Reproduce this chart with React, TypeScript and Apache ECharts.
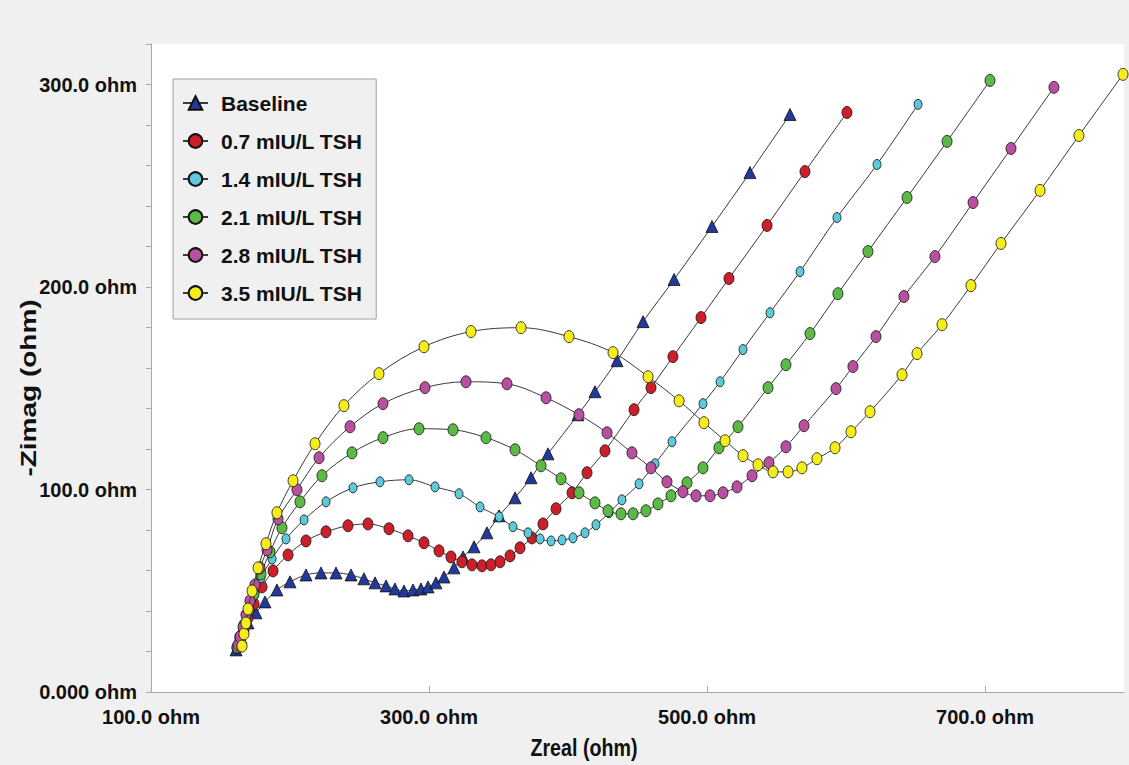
import React, { useEffect, useRef } from 'react';
import * as echarts from 'echarts';

const seriesNames = ['Baseline', '0.7 mIU/L TSH', '1.4 mIU/L TSH', '2.1 mIU/L TSH', '2.8 mIU/L TSH', '3.5 mIU/L TSH'];
const seriesColors = ['#22389a', '#cc1f2a', '#5ccadb', '#5cb946', '#b8509f', '#f5ec1c'];

const baselineZreal = [161.2,164.7,169.8,175.5,182.0,190.6,200.0,211.5,222.3,233.1,243.9,253.2,261.2,269.1,275.5,282.0,288.5,294.2,299.3,305.0,310.8,318.0,324.5,332.4,341.7,350.4,361.9,373.4,385.6,407.2,419.4,435.3,454.0,476.3,503.6,530.9,559.7];
const baselineZimag = [20.8,26.7,34.1,39.1,44.5,50.4,54.4,57.8,58.8,58.8,57.8,55.9,53.9,52.4,50.9,49.9,50.4,50.9,51.9,53.9,56.8,61.3,66.7,71.7,78.6,87.0,95.9,105.8,117.6,136.9,148.3,163.6,182.9,203.7,229.9,256.5,285.2];

const tsh07Zreal = [161.9,164.0,166.9,169.8,174.1,179.9,187.8,198.6,211.5,225.9,241.7,256.1,271.2,284.9,296.4,307.2,315.8,323.7,330.9,338.1,344.6,351.1,358.3,365.5,374.1,382.0,391.4,402.9,413.7,426.6,447.5,459.7,475.5,495.7,515.8,543.2,570.5,600.7];
const tsh07Zimag = [21.7,25.7,30.6,36.6,43.5,51.9,59.8,67.7,74.6,79.1,82.1,83.0,80.6,77.1,73.7,69.7,66.7,64.3,62.8,62.3,62.8,64.3,67.2,71.2,76.1,83.0,90.5,98.4,108.3,119.1,139.4,150.3,165.6,184.9,204.2,230.4,257.0,286.2];

const tsh14Zreal = [161.9,164.0,166.9,170.5,174.1,179.1,187.1,197.1,210.1,225.9,245.3,264.7,285.6,304.3,321.6,336.7,350.4,360.4,371.2,379.9,387.8,395.7,403.6,412.2,420.1,429.5,438.8,451.1,462.6,474.8,497.1,509.4,525.9,545.3,566.9,593.5,622.3,651.8];
const tsh14Zimag = [22.7,27.2,32.6,39.5,47.5,56.4,65.7,75.6,85.0,93.9,100.8,103.8,104.8,101.3,97.9,91.4,86.5,81.6,78.6,75.6,74.6,75.1,76.1,78.6,82.6,88.5,94.9,102.8,112.7,123.6,142.4,153.2,169.1,187.3,207.6,234.3,260.5,290.2];

const tsh21Zreal = [161.9,164.0,166.9,170.5,174.1,179.1,185.6,194.2,207.2,223.0,244.6,266.9,292.8,317.3,341.0,361.9,380.6,395.0,407.9,419.4,428.8,438.1,446.8,456.1,464.7,474.1,485.6,497.1,508.6,522.3,543.9,556.8,574.1,594.2,615.8,643.9,672.7,703.6];
const tsh21Zimag = [22.2,27.2,33.1,40.5,48.4,58.3,69.2,81.1,93.9,106.8,118.1,125.6,130.0,129.5,125.6,119.6,111.7,105.3,98.4,93.4,89.5,88.0,88.0,89.5,92.9,96.9,103.3,110.7,120.6,131.0,150.3,161.6,177.0,196.7,217.5,244.2,271.9,302.0];

const tsh28Zreal = [162.6,164.0,166.2,168.3,171.2,174.8,178.4,183.5,191.4,205.0,220.9,243.2,266.9,297.1,326.6,356.1,384.2,407.9,428.1,446.0,459.7,471.2,482.7,492.1,502.2,511.5,521.6,532.4,544.6,556.8,569.8,592.8,605.0,621.6,641.7,664.0,691.4,718.7,749.6];
const tsh28Zimag = [23.2,27.2,32.1,38.1,45.0,52.9,61.3,70.2,85.5,99.9,115.7,131.0,142.4,150.3,153.2,152.2,145.3,136.9,128.0,118.1,110.7,103.8,98.9,96.9,96.9,98.4,101.3,106.8,113.2,121.1,131.5,149.8,160.7,175.5,195.3,215.0,241.7,268.4,298.6];

const tsh35Zreal = [165.5,166.9,168.3,169.8,172.7,177.0,182.7,190.6,202.2,218.0,238.8,264.0,296.4,330.2,366.2,400.7,432.4,457.6,479.9,497.8,513.0,525.9,536.7,547.5,558.3,568.3,579.1,592.1,603.6,617.3,640.3,651.1,669.1,689.9,711.5,739.6,767.6,799.3];
const tsh35Zimag = [22.7,28.7,34.1,41.0,49.9,61.3,73.2,88.5,104.3,122.6,141.4,157.2,170.5,178.0,179.9,175.5,167.6,155.7,143.8,133.0,124.1,116.7,112.2,108.7,108.7,110.7,115.2,120.6,128.5,138.4,156.7,167.1,181.4,200.7,221.5,247.7,274.8,305.0];

const allZreal = [baselineZreal, tsh07Zreal, tsh14Zreal, tsh21Zreal, tsh28Zreal, tsh35Zreal];
const allZimag = [baselineZimag, tsh07Zimag, tsh14Zimag, tsh21Zimag, tsh28Zimag, tsh35Zimag];

const xAxisTitle = 'Zreal (ohm)';
const yAxisTitle = '-Zimag (ohm)';

const FONT = "'Liberation Sans', Arial, sans-serif";

export default function App() {
  const ref = useRef<HTMLDivElement>(null);
  useEffect(() => {
    document.body.style.margin = '0';
    const chart = echarts.init(ref.current as HTMLDivElement, null, { renderer: 'svg' });
    const series = seriesNames.map((name, i) => ({
      name,
      type: 'line',
      data: allZreal[i].map((x, k) => [x, allZimag[i][k]]),
      smooth: 0.35,
      clip: false,
      symbol: i === 0 ? 'triangle' : 'circle',
      symbolSize: i === 0 ? [12, 12] : i === 2 ? [8, 10] : [10, 12],
      showAllSymbol: true,
      lineStyle: { color: '#3a3a3a', width: 1 },
      itemStyle: { color: seriesColors[i], borderColor: '#111', borderWidth: 0.8 },
      emphasis: { disabled: true },
      z: 2 + i,
    }));
    const option = {
      animation: false,
      backgroundColor: '#f0f0f0',
      grid: { left: 151, right: 5, top: 44, bottom: 73, show: true, backgroundColor: '#ffffff', borderWidth: 0 },
      xAxis: {
        type: 'value', min: 100, max: 800, interval: 200,
        axisLine: { show: true, onZero: false, lineStyle: { color: '#a8a8a8', width: 1 } },
        axisTick: { show: true, inside: true, length: 6, lineStyle: { color: '#a8a8a8' } },
        splitLine: { show: false },
        axisLabel: {
          margin: 15, fontSize: 20, fontWeight: 'bold', fontFamily: FONT, color: '#111',
          showMaxLabel: false,
          formatter: (v: number) => (v === 800 ? '' : v.toFixed(1) + ' ohm'),
        },
      },
      yAxis: {
        type: 'value', min: 0, max: 320, interval: 20,
        axisLine: { show: true, onZero: false, lineStyle: { color: '#a8a8a8', width: 1 } },
        axisTick: { show: true, inside: false, length: 5, lineStyle: { color: '#a8a8a8' } },
        splitLine: { show: false },
        axisLabel: {
          margin: 14, fontSize: 20, fontWeight: 'bold', fontFamily: FONT, color: '#111',
          formatter: (v: number) => (v % 100 === 0 ? (v === 0 ? '0.000 ohm' : v.toFixed(1) + ' ohm') : ''),
        },
      },
      legend: {
        orient: 'vertical', left: 173, top: 79,
        padding: [13, 14, 15, 9], itemGap: 16, itemWidth: 25, itemHeight: 17,
        backgroundColor: '#f0f0f0', borderColor: '#a0a0a0', borderWidth: 1, borderRadius: 0,
        textStyle: { fontSize: 21, fontWeight: 'bold', fontFamily: FONT, color: '#111', padding: [0, 0, 0, 8], lineHeight: 22 },
        data: seriesNames,
        selectedMode: false,
      },
      graphic: [
        {
          type: 'text', x: 28, y: 388, rotation: Math.PI / 2, scaleY: 0.8,
          style: { text: yAxisTitle, font: `bold 28px ${FONT}`, fill: '#111', align: 'center', verticalAlign: 'middle' },
        },
        {
          type: 'text', x: 584, y: 748, scaleX: 0.82,
          style: { text: xAxisTitle, font: `bold 24px ${FONT}`, fill: '#111', align: 'center', verticalAlign: 'middle' },
        },
      ],
      series,
    };
    chart.setOption(option as any);
    return () => chart.dispose();
  }, []);
  return <div ref={ref} style={{ width: 1129, height: 765 }} />;
}
